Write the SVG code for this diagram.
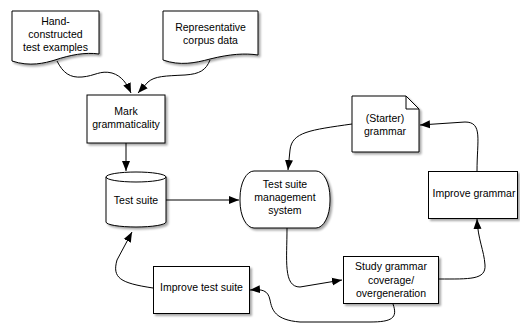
<svg xmlns="http://www.w3.org/2000/svg" width="520" height="325" viewBox="0 0 520 325">
<defs>
<filter id="sh" x="-10%" y="-10%" width="130%" height="130%">
<feGaussianBlur in="SourceAlpha" stdDeviation="1.2"/>
<feOffset dx="2" dy="2" result="b"/>
<feComponentTransfer><feFuncA type="linear" slope="0.35"/></feComponentTransfer>
<feMerge><feMergeNode/><feMergeNode in="SourceGraphic"/></feMerge>
</filter>
<marker id="arr" markerUnits="userSpaceOnUse" markerWidth="11" markerHeight="9" refX="10" refY="4.5" orient="auto" viewBox="0 0 11 9">
<path d="M0,0.5 L10,4.5 L0,8.5 z" fill="#000"/>
</marker>
<style>
.n{fill:#fff;stroke:#000;stroke-width:1;filter:url(#sh)}
.t{font-family:"Liberation Sans",Arial,sans-serif;font-size:10.5px;fill:#000;text-anchor:middle}
.e{fill:none;stroke:#000;stroke-width:1;marker-end:url(#arr)}
</style>
</defs>
<rect width="520" height="325" fill="#fff"/>
<g id="connectors">
<path class="e" d="M57,61 C63,73 70,78 82,77 C95,76 100,70 112,73 C122,76 127,84 131,93"/>
<path class="e" d="M210,60 C206,70 200,74 185,75 C165,76 155,76 148,82 L138,93"/>
<path class="e" d="M126,143 L126,171"/>
<path class="e" d="M166,200 L239,200"/>
<path class="e" d="M352,124 C310,130 292,132 290,150 L288,170"/>
<path class="e" d="M477,171 C477,140 483,122 465,122 L420,125"/>
<path class="e" d="M287,228 C287,260 283,287 300,287 L342,280"/>
<path class="e" d="M439,279 C470,279 486,280 485,265 C484,250 478,240 477,219"/>
<path class="e" d="M393,304 C398,318 392,322 370,322 L300,322 C275,320 272,310 270,300 C268,290 262,289 250,290"/>
<path class="e" d="M153,288 C120,283 112,278 117,260 L132,232"/>
</g>
<g id="hand">
<path class="n" d="M12,11 H99 V54 C85,52 70,55 55,60 C45,63 30,67 12,61 Z"/>
<text class="t" x="55.5" y="25">Hand-</text>
<text class="t" x="55.5" y="38">constructed</text>
<text class="t" x="55.5" y="51">test examples</text>
</g>
<g id="corpus">
<path class="n" d="M163,11 H258 V55 C245,53 230,54 210,59 C195,63 180,66 163,60 Z"/>
<text class="t" x="210.5" y="31">Representative</text>
<text class="t" x="210.5" y="44">corpus data</text>
</g>
<g id="mark">
<rect class="n" x="87" y="95" width="78" height="48"/>
<text class="t" x="126" y="115">Mark</text>
<text class="t" x="126" y="128">grammaticality</text>
</g>
<g id="testsuite">
<path class="n" d="M106,177 A30,5 0 0 1 166,177 V222 A30,5 0 0 1 106,222 Z"/>
<path d="M106,177 A30,5 0 0 0 166,177" fill="none" stroke="#000"/>
<text class="t" x="136" y="204">Test suite</text>
</g>
<g id="tsms">
<rect class="n" x="240" y="171" width="90" height="57" rx="14" ry="27"/>
<text class="t" x="285" y="188">Test suite</text>
<text class="t" x="285" y="201">management</text>
<text class="t" x="285" y="214">system</text>
</g>
<g id="starter">
<path class="n" d="M352,96 H406 L419,109 V152 H352 Z"/>
<path d="M406,96 V109 H419" fill="none" stroke="#000"/>
<text class="t" x="385" y="122">(Starter)</text>
<text class="t" x="385" y="135">grammar</text>
</g>
<g id="improvegrammar">
<rect class="n" x="428.5" y="171.5" width="89" height="47"/>
<text class="t" x="474" y="197">Improve grammar</text>
</g>
<g id="study">
<rect class="n" x="343.5" y="256.5" width="95" height="47"/>
<text class="t" x="391" y="270">Study grammar</text>
<text class="t" x="391" y="284">coverage/</text>
<text class="t" x="391" y="297">overgeneration</text>
</g>
<g id="improvetest">
<rect class="n" x="153.5" y="266.5" width="96" height="47"/>
<text class="t" x="201.5" y="291">Improve test suite</text>
</g>
</svg>
